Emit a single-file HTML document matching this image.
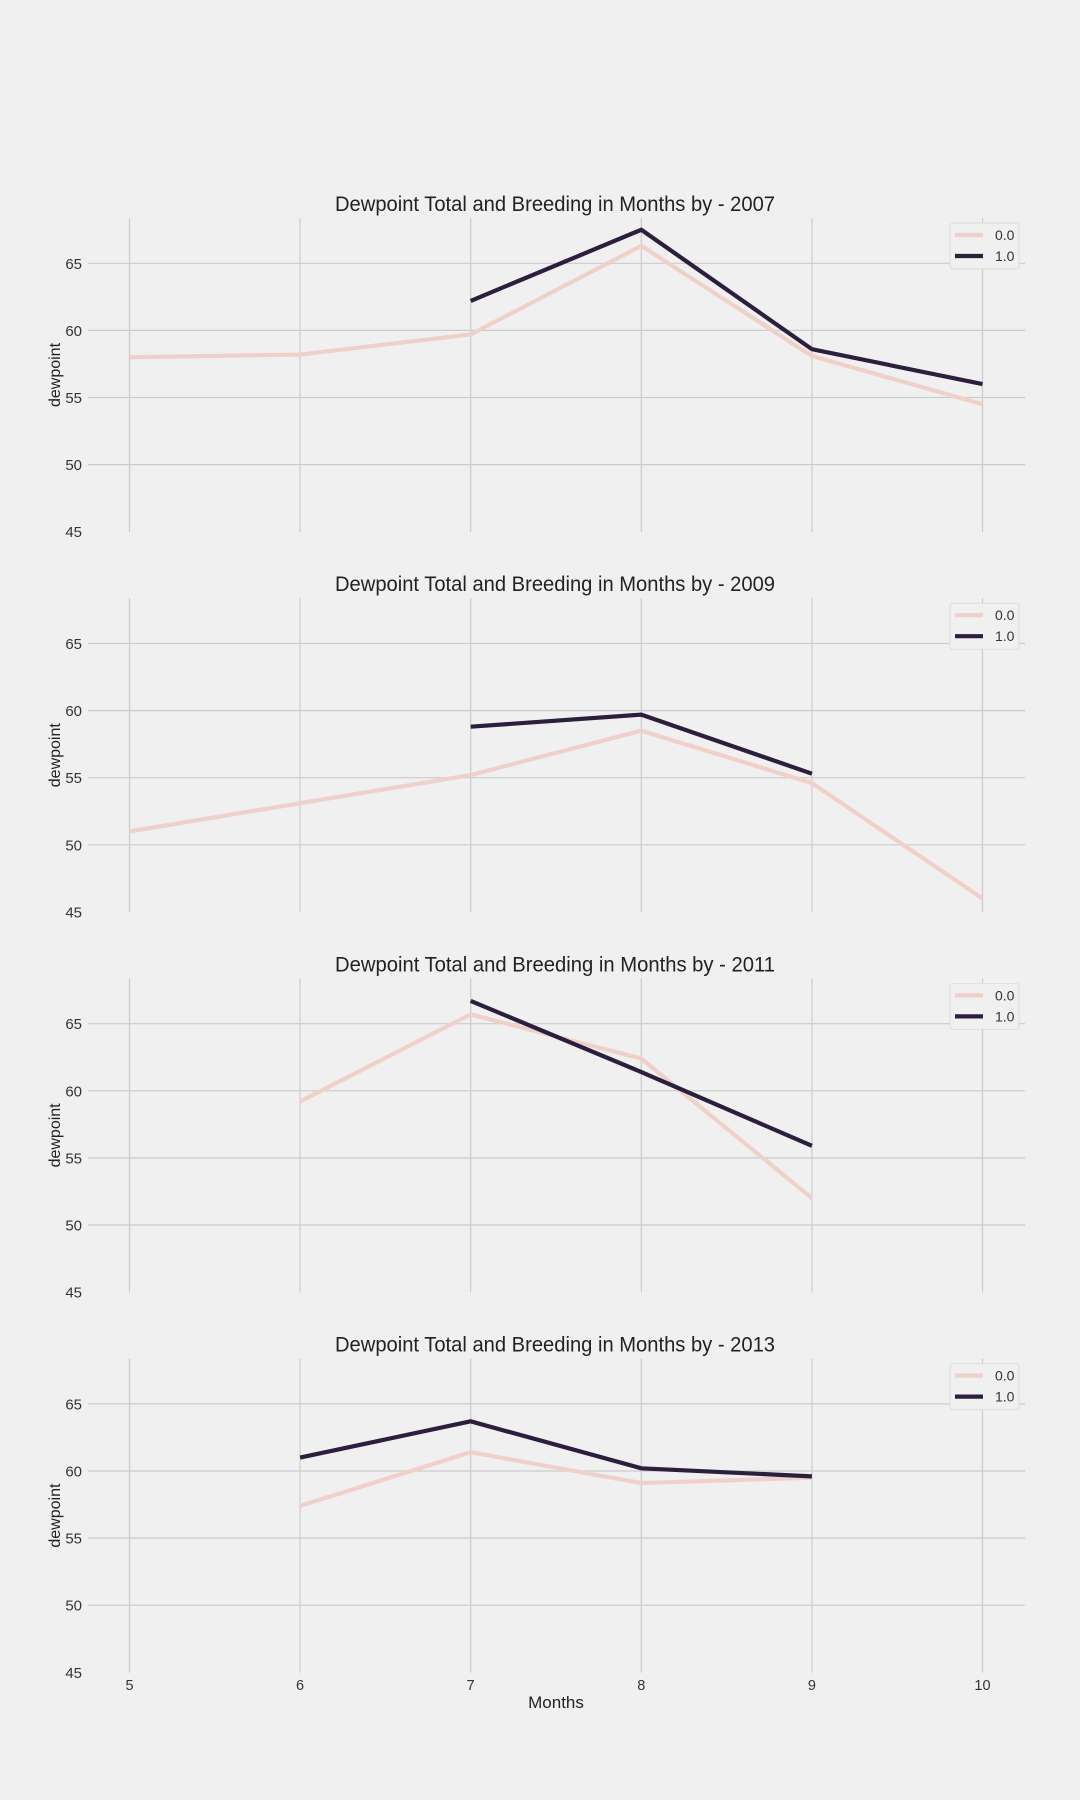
<!DOCTYPE html>
<html><head><meta charset="utf-8"><style>
body{margin:0;background:#f0f0f0;}
svg{display:block;font-family:"Liberation Sans",sans-serif;}
</style></head><body>
<svg id="chart" width="1080" height="1800" viewBox="0 0 1080 1800"></svg>
<script>
const years = ["2007","2009","2011","2013"];
const months = [5,6,7,8,9,10];
const yTicks = [45,50,55,60,65];
const s0_2007 = [[5,58.0],[6,58.2],[7,59.7],[8,66.3],[9,58.1],[10,54.5]];
const s1_2007 = [[7,62.2],[8,67.5],[9,58.6],[10,56.0]];
const s0_2009 = [[5,51.0],[6,53.1],[7,55.2],[8,58.5],[9,54.6],[10,46.0]];
const s1_2009 = [[7,58.8],[8,59.7],[9,55.3]];
const s0_2011 = [[6,59.2],[7,65.7],[8,62.4],[9,52.0]];
const s1_2011 = [[7,66.7],[8,61.4],[9,55.9]];
const s0_2013 = [[6,57.4],[7,61.4],[8,59.1],[9,59.5]];
const s1_2013 = [[6,61.0],[7,63.7],[8,60.2],[9,59.6]];
const series0 = [s0_2007,s0_2009,s0_2011,s0_2013];
const series1 = [s1_2007,s1_2009,s1_2011,s1_2013];

const NS="http://www.w3.org/2000/svg";
const svg=document.getElementById('chart');
function mk(tag,attrs,parent){const e=document.createElementNS(NS,tag);for(const k in attrs)e.setAttribute(k,attrs[k]);(parent||svg).appendChild(e);return e;}
const xs=m=>129.5+(m-5)*170.6;
const PAN=380.2;
const C0="#efd1ca", C1="#2c1e3d";

years.forEach((yr,i)=>{
  const off=i*PAN;
  const ys=v=>263.3+off+(65-v)*13.42;
  const g=mk('g',{});
  
  
  const top=218+off, bot=532+off;
  months.forEach(m=>{
    const l=mk('line',{x1:xs(m),x2:xs(m),y1:top,y2:bot,stroke:"#cbcbcb","stroke-width":1.2},g);
    
    
  });
  yTicks.forEach(t=>{
    if(t>45){
      const l=mk('line',{x1:88,x2:1025,y1:ys(t),y2:ys(t),stroke:"#cbcbcb","stroke-width":1.2},g);
      
      
    }
    const tx=mk('text',{x:82,y:ys(t)+5.5,"text-anchor":"end","font-size":15,fill:"#333"},g);
    tx.textContent=t;
    
    
  });
  const ti=mk('text',{x:555,y:211+off,"text-anchor":"middle","font-size":21,fill:"#222",textLength:440,lengthAdjust:"spacingAndGlyphs"},g);
  ti.textContent="Dewpoint Total and Breeding in Months by - "+yr;
  
  
  const yl=mk('text',{x:0,y:0,"text-anchor":"middle","font-size":16,fill:"#222",transform:`translate(60,${375+off}) rotate(-90)`},g);
  yl.textContent="dewpoint";
  
  
  [[series0[i],C0,'series-0'],[series1[i],C1,'series-1']].forEach(([d,c,n])=>{
    const p=mk('polyline',{points:d.map(q=>xs(q[0])+","+ys(q[1])).join(" "),fill:"none",stroke:c,"stroke-width":4.2,"stroke-linejoin":"miter"},g);
    
    
  });
  const lg=mk('g',{},g);
  
  
  mk('rect',{x:950,y:223+off,width:69,height:46,rx:3,fill:"#f0f0f0",stroke:"#dddddd","stroke-width":1},lg);
  [["0.0",C0,235],["1.0",C1,256]].forEach(([lab,c,yy])=>{
    const e=mk('line',{x1:955,x2:983,y1:yy+off,y2:yy+off,stroke:c,"stroke-width":4.2},lg);
    
    
    const t=mk('text',{x:995,y:yy+off+5,"font-size":14,fill:"#333"},lg);
    t.textContent=lab;
    
    
  });
});
months.forEach(m=>{
  const t=mk('text',{x:xs(m),y:1690,"text-anchor":"middle","font-size":14.5,fill:"#333"});
  t.textContent=m;
  
  
});
const xl=mk('text',{x:556,y:1708,"text-anchor":"middle","font-size":17,fill:"#222"});
xl.textContent="Months";


</script>
</body></html>
